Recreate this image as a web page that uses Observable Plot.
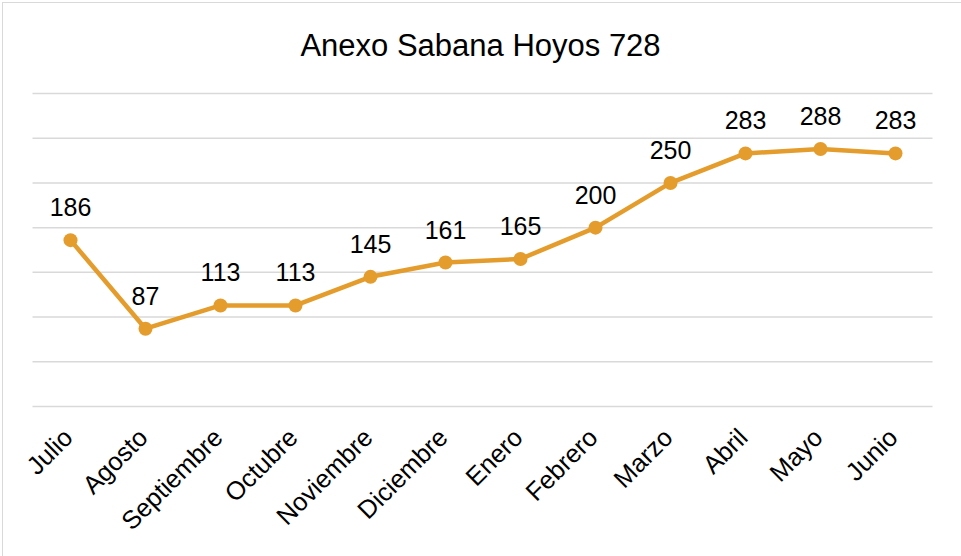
<!DOCTYPE html>
<html>
<head>
<meta charset="utf-8">
<script src="https://cdn.jsdelivr.net/npm/d3@7"></script>
<script src="https://cdn.jsdelivr.net/npm/@observablehq/plot@0.6"></script>
<style>
  html, body { margin: 0; padding: 0; background: #fff; overflow: hidden; width: 961px; height: 556px; }
  #frame { position: absolute; left: 2px; top: 2px; width: 1100px; height: 700px; border: 1.5px solid #d9d9d9; box-sizing: border-box; z-index: 10; pointer-events: none; background: transparent; }
  #title { position: absolute; left: 0; top: 30px; width: 961px; text-align: center; font-family: "Liberation Sans", Arial, sans-serif; font-size: 31px; line-height: 32px; color: #000; }
  #chart { position: absolute; left: 0; top: 75px; }
</style>
</head>
<body>
<div id="frame"></div>
<div id="title">Anexo Sabana Hoyos 728</div>
<div id="chart"></div>
<script>
const months = ["Julio", "Agosto", "Septiembre", "Octubre", "Noviembre", "Diciembre", "Enero", "Febrero", "Marzo", "Abril", "Mayo", "Junio"];
const values = [186, 87, 113, 113, 145, 161, 165, 200, 250, 283, 288, 283];
const gridTicks = [0, 50, 100, 150, 200, 250, 300, 350];

const data = months.map((m, i) => ({month: m, value: values[i]}));
const color = "#E49C2C";

const chart = Plot.plot({
  width: 961,
  height: 481,
  marginLeft: 32.5,
  marginRight: 28.5,
  marginTop: 18,
  marginBottom: 150,
  style: { fontFamily: "'Liberation Sans', Arial, sans-serif", background: "transparent", overflow: "visible" },
  x: { type: "point", domain: months, padding: 0.5, label: null },
  y: { domain: [0, 350], axis: null },
  marks: [
    Plot.ruleY(gridTicks, { stroke: "#d9d9d9", strokeWidth: 1.5 }),
    Plot.axisX({ tickRotate: -45, tickSize: 0, tickPadding: 27, dx: -2, fontSize: 25.5, fill: "#000", label: null }),
    Plot.line(data, { x: "month", y: "value", stroke: color, strokeWidth: 4.5, strokeLinejoin: "round" }),
    Plot.dot(data, { x: "month", y: "value", fill: color, r: 7, stroke: null }),
    Plot.text(data, { x: "month", y: "value", text: d => String(d.value), dy: -32, fontSize: 25, fill: "#000" })
  ]
});
document.getElementById("chart").appendChild(chart);
</script>
</body>
</html>
